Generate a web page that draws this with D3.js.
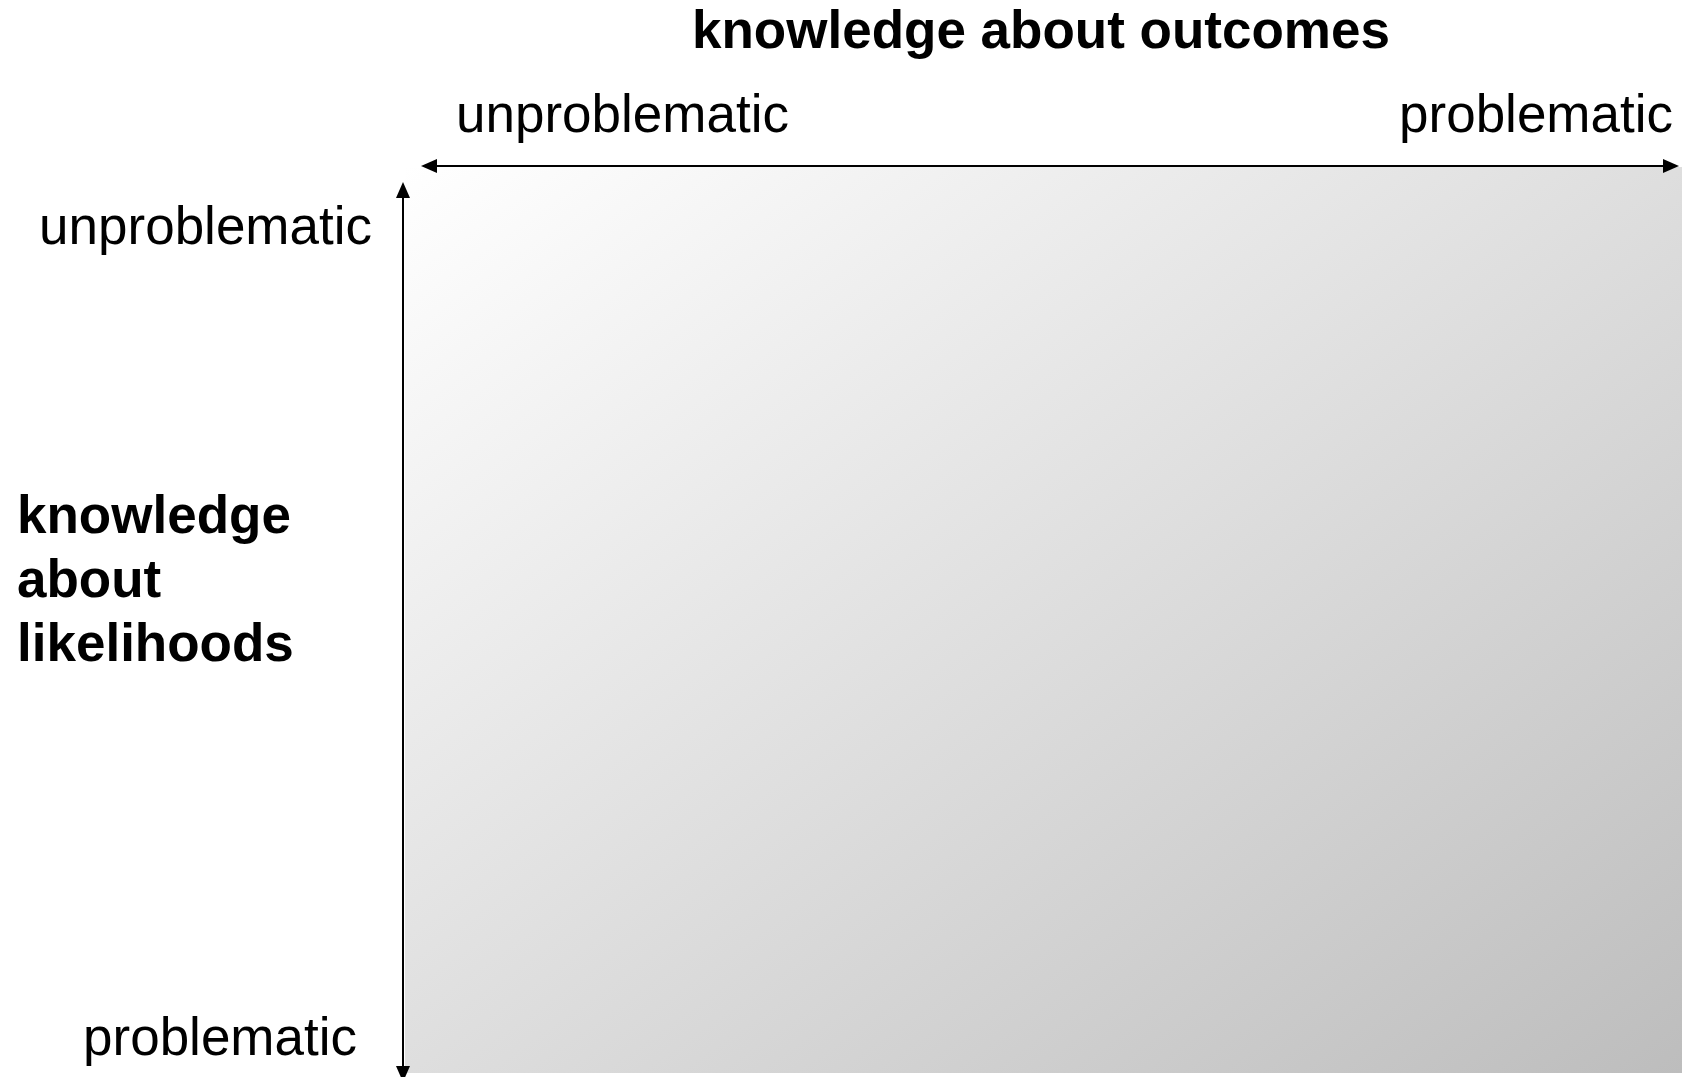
<!DOCTYPE html>
<html>
<head>
<meta charset="utf-8">
<script src="https://cdn.jsdelivr.net/npm/d3@7"></script>
<style>
  html, body { margin: 0; padding: 0; background: #fff; }
  svg { display: block; font-family: "Liberation Sans", Arial, sans-serif; }
</style>
</head>
<body>
<div id="chart"></div>
<script>
var width = 1682;
var height = 1077;

// axis categories and titles
var outcomeLevels = ["unproblematic", "problematic"];
var likelihoodLevels = ["unproblematic", "problematic"];
var outcomeTitle = ["knowledge about outcomes"];
var likelihoodTitle = ["knowledge", "about", "likelihoods"];
var shadeStops = [0, 1];
var shadeColors = ["#ffffff", "#bdbdbd"];

var svg = d3
  .select("#chart")
  .append("svg")
  .attr("width", width)
  .attr("height", height);

// both axes run 0 (unproblematic) -> 1 (problematic)
var x = d3.scaleLinear().domain([0, 1]).range([421, 1679]);
var y = d3.scaleLinear().domain([0, 1]).range([182, 1082]);
var axisY = 166;
var axisX = 403;

var grad = svg
  .append("defs")
  .append("linearGradient")
  .attr("id", "shade")
  .attr("x1", 0)
  .attr("y1", 0)
  .attr("x2", 1)
  .attr("y2", 1);

grad
  .selectAll("stop")
  .data(shadeStops)
  .enter()
  .append("stop")
  .attr("offset", function(d) {
    return d;
  })
  .attr("stop-color", function(d, i) {
    return shadeColors[i];
  });

// shaded field
svg
  .append("rect")
  .attr("x", axisX + 2)
  .attr("y", axisY + 1)
  .attr("width", width - axisX - 2)
  .attr("height", y(1) - axisY - 10)
  .style("fill", "url(#shade)");

// arrow head: tip at (tx,ty), pointing along (dx,dy)
var ah = { l: 16, w: 7 };
function head(tx, ty, dx, dy) {
  var bx = tx - dx * ah.l;
  var by = ty - dy * ah.l;
  return (
    "M" + tx + "," + ty +
    "L" + (bx - dy * ah.w) + "," + (by + dx * ah.w) +
    "L" + (bx + dy * ah.w) + "," + (by - dx * ah.w) + "Z"
  );
}

// outcomes axis (horizontal)
svg
  .append("line")
  .attr("x1", x(0) + 10)
  .attr("x2", x(1) - 10)
  .attr("y1", axisY)
  .attr("y2", axisY)
  .style("stroke", "#000")
  .style("stroke-width", 2);
svg.append("path").attr("d", head(x(0), axisY, -1, 0)).style("fill", "#000");
svg.append("path").attr("d", head(x(1), axisY, 1, 0)).style("fill", "#000");

// likelihoods axis (vertical)
svg
  .append("line")
  .attr("x1", axisX)
  .attr("x2", axisX)
  .attr("y1", y(0) + 10)
  .attr("y2", y(1) - 10)
  .style("stroke", "#000")
  .style("stroke-width", 2);
svg.append("path").attr("d", head(axisX, y(0), 0, -1)).style("fill", "#000");
svg.append("path").attr("d", head(axisX, y(1), 0, 1)).style("fill", "#000");

var fontSize = 53;

// outcome level labels
svg
  .selectAll("text.xlab")
  .data(outcomeLevels)
  .enter()
  .append("text")
  .attr("class", "xlab")
  .attr("x", function(d, i) {
    return i === 0 ? x(0) + 35 : x(1) - 6;
  })
  .attr("y", 132)
  .attr("text-anchor", function(d, i) {
    return i === 0 ? "start" : "end";
  })
  .style("font-size", fontSize + "px")
  .text(function(d) {
    return d;
  });

// likelihood level labels
svg
  .selectAll("text.ylab")
  .data(likelihoodLevels)
  .enter()
  .append("text")
  .attr("class", "ylab")
  .attr("x", function(d, i) {
    return i === 0 ? 372 : 357;
  })
  .attr("y", function(d, i) {
    return i === 0 ? y(0) + 62 : y(1) - 27;
  })
  .attr("text-anchor", "end")
  .style("font-size", fontSize + "px")
  .text(function(d) {
    return d;
  });

// titles
svg
  .selectAll("text.xtitle")
  .data(outcomeTitle)
  .enter()
  .append("text")
  .attr("class", "xtitle")
  .attr("x", 692)
  .attr("y", 48)
  .style("font-size", fontSize + "px")
  .style("font-weight", "bold")
  .text(function(d) {
    return d;
  });

svg
  .selectAll("text.ytitle")
  .data(likelihoodTitle)
  .enter()
  .append("text")
  .attr("class", "ytitle")
  .attr("x", 17)
  .attr("y", function(d, i) {
    return 533 + i * 64;
  })
  .style("font-size", fontSize + "px")
  .style("font-weight", "bold")
  .text(function(d) {
    return d;
  });
</script>
</body>
</html>
